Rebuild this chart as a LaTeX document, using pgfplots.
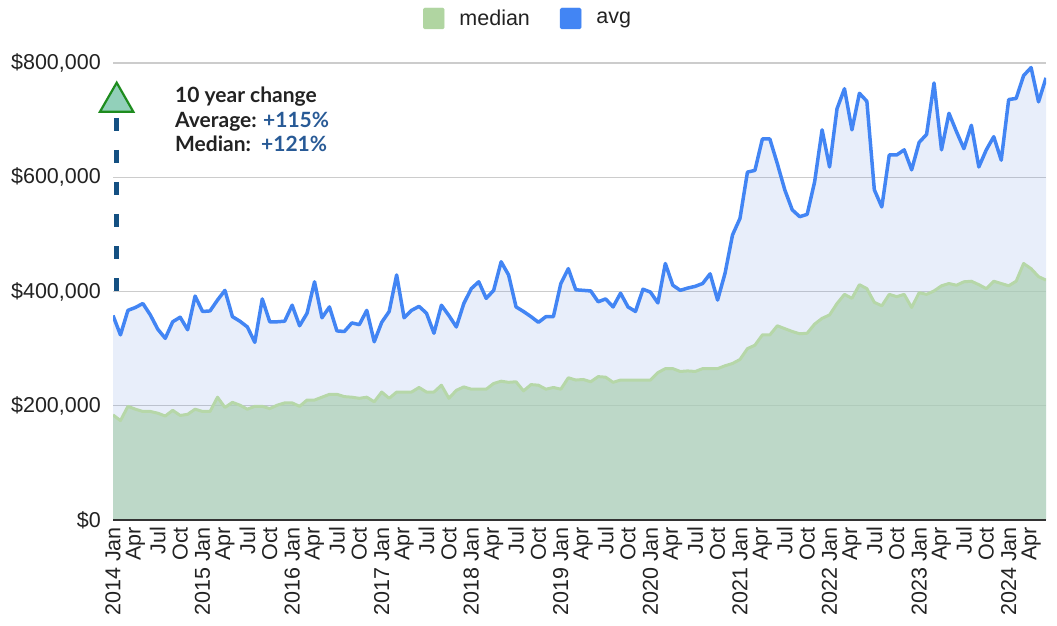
\documentclass[border=0pt]{standalone}
\usepackage{fontspec}
\setmainfont{Liberation Sans}
\newfontfamily\lato{Lato}
\usepackage{pgfplots}
\usepackage{pgfplotstable}
\pgfplotsset{compat=1.18}

\definecolor{avgline}{RGB}{66,133,244}
\definecolor{avgfill}{RGB}{102,142,222}
\definecolor{medline}{RGB}{182,215,168}
\definecolor{medfill}{RGB}{172,207,179}
\definecolor{gridgray}{RGB}{204,204,204}
\definecolor{txt}{RGB}{34,34,34}
\definecolor{annblue}{RGB}{40,90,150}
\definecolor{dashblue}{RGB}{20,80,130}
\definecolor{trifill}{RGB}{146,208,186}
\definecolor{tristroke}{RGB}{30,140,30}
\definecolor{legmed}{RGB}{176,213,161}

\pgfplotstableread{
i avg median
0 358000 184000
1 324000 174000
2 367000 199000
3 372000 194000
4 379000 190000
5 359000 190000
6 334000 187000
7 318000 182000
8 347000 192000
9 355000 183000
10 333000 185000
11 392000 194000
12 365000 190000
13 366000 190000
14 385000 215000
15 402000 197000
16 356000 206000
17 348000 201000
18 338000 194000
19 311000 199000
20 387000 199000
21 347000 195000
22 347000 201000
23 348000 205000
24 376000 205000
25 340000 199000
26 362000 210000
27 417000 210000
28 354000 215000
29 373000 220000
30 331000 220000
31 330000 216000
32 345000 215000
33 342000 213000
34 367000 215000
35 312000 207000
36 346000 224000
37 365000 213000
38 429000 224000
39 354000 224000
40 367000 224000
41 374000 232000
42 362000 224000
43 327000 224000
44 376000 236000
45 358000 213000
46 338000 227000
47 379000 233000
48 405000 229000
49 417000 229000
50 388000 229000
51 402000 239000
52 452000 243000
53 429000 241000
54 373000 242000
55 365000 226000
56 356000 237000
57 346000 236000
58 356000 229000
59 356000 232000
60 414000 229000
61 440000 249000
62 403000 245000
63 402000 246000
64 401000 242000
65 382000 251000
66 387000 250000
67 373000 241000
68 397000 245000
69 373000 245000
70 365000 245000
71 404000 245000
72 399000 245000
73 380000 258000
74 449000 265000
75 411000 265000
76 402000 260000
77 406000 261000
78 409000 260000
79 414000 265000
80 431000 265000
81 385000 265000
82 432000 270000
83 499000 274000
84 528000 281000
85 609000 300000
86 612000 306000
87 667000 324000
88 667000 324000
89 624000 340000
90 578000 335000
91 543000 330000
92 531000 326000
93 535000 327000
94 592000 343000
95 683000 353000
96 618000 359000
97 720000 379000
98 755000 395000
99 683000 388000
100 747000 412000
101 733000 405000
102 578000 381000
103 548000 375000
104 639000 395000
105 639000 391000
106 648000 395000
107 613000 372000
108 661000 398000
109 675000 395000
110 765000 401000
111 648000 410000
112 712000 414000
113 680000 411000
114 650000 417000
115 691000 418000
116 618000 412000
117 648000 405000
118 671000 418000
119 630000 414000
120 736000 410000
121 738000 418000
122 778000 449000
123 792000 440000
124 732000 426000
125 774000 420000
}\housedata

\begin{document}
\begin{tikzpicture}
\useasboundingbox (0pt,0pt) rectangle (1057pt,625pt);
\begin{axis}[
  at={(113pt,105pt)}, anchor=south west,
  scale only axis, width=933pt, height=457pt,
  xmin=0, xmax=125, ymin=0, ymax=800000,
  axis line style={draw=none},
  major tick length=0pt,
  scaled y ticks=false,
  ytick={0,200000,400000,600000,800000},
  yticklabels={{\$0},{\$200,000},{\$400,000},{\$600,000},{\$800,000}},
  ymajorgrids, grid style={gridgray, line width=1.3pt},
  xtick={0,3,...,123},
  xticklabels={{2014 Jan},Apr,Jul,Oct,{2015 Jan},Apr,Jul,Oct,{2016 Jan},Apr,Jul,Oct,{2017 Jan},Apr,Jul,Oct,{2018 Jan},Apr,Jul,Oct,{2019 Jan},Apr,Jul,Oct,{2020 Jan},Apr,Jul,Oct,{2021 Jan},Apr,Jul,Oct,{2022 Jan},Apr,Jul,Oct,{2023 Jan},Apr,Jul,Oct,{2024 Jan},Apr},
  x tick label style={rotate=90, anchor=east, inner sep=0pt, font=\fontsize{21.5}{25}\selectfont, text=txt},
  y tick label style={anchor=east, inner sep=0pt, font=\fontsize{21.5}{25}\selectfont, text=txt},
  xticklabel shift=7pt,
  yticklabel shift=12pt,
  legend columns=2,
  legend style={at={(axis description cs:0.3323,1.0974)}, anchor=west, draw=none, fill=none,
    inner sep=0pt, outer sep=0pt, font=\fontsize{21.5}{25}\selectfont, text=txt,
    nodes={inner sep=0pt},
    /tikz/every odd column/.append style={column sep=15pt},
    /tikz/every even column/.append style={column sep=30pt}},
]
\addlegendimage{legend image code/.code={\fill[legmed, rounded corners=1.5pt] (0pt,-10.5pt) rectangle (21pt,10.5pt);}}
\addlegendentry{median}
\addlegendimage{legend image code/.code={\fill[avgline, rounded corners=1.5pt] (0pt,-10.5pt) rectangle (21pt,10.5pt);}}
\addlegendentry{avg}

\addplot[draw=none, fill=avgfill, fill opacity=0.15, forget plot] table[x=i,y=avg]{\housedata} \closedcycle;
\addplot[draw=none, fill=medfill, fill opacity=0.7, forget plot] table[x=i,y=median]{\housedata} \closedcycle;
\addplot[medline, line width=3pt, line join=round, forget plot] table[x=i,y=median]{\housedata};
\addplot[avgline, line width=3.5pt, line join=round, forget plot] table[x=i,y=avg]{\housedata};
\draw[black!80, line width=1.2pt] (axis cs:0,0) -- (axis cs:125,0);
\end{axis}

% annotation
\draw[dashblue, line width=5pt, dash pattern=on 13pt off 19pt] (116.7pt,507pt) -- (116.7pt,333pt);
\filldraw[fill=trifill, draw=tristroke, line width=2.2pt, line join=miter]
  (100pt,513.3pt) -- (116.7pt,542.3pt) -- (133.3pt,513.3pt) -- cycle;
\node[anchor=base west, inner sep=0pt, text=txt] at (175pt,522pt) {\lato\bfseries\fontsize{21}{25}\selectfont 10 year change};
\node[anchor=base west, inner sep=0pt, text=txt] at (175pt,497.5pt) {\lato\bfseries\fontsize{21}{25}\selectfont Average:};
\node[anchor=base west, inner sep=0pt, text=annblue] at (263pt,497.5pt) {\lato\bfseries\fontsize{21}{25}\selectfont +115\%};
\node[anchor=base west, inner sep=0pt, text=txt] at (175pt,473pt) {\lato\bfseries\fontsize{21}{25}\selectfont Median:};
\node[anchor=base west, inner sep=0pt, text=annblue] at (261pt,473pt) {\lato\bfseries\fontsize{21}{25}\selectfont +121\%};
\end{tikzpicture}
\end{document}
